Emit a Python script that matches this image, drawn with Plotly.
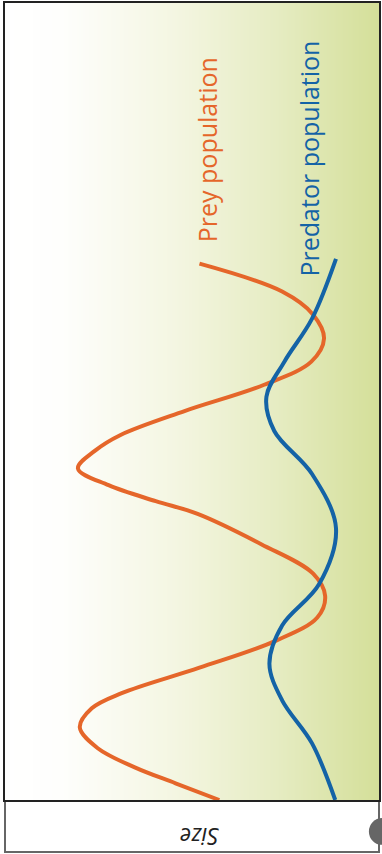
import numpy as np
import plotly.graph_objects as go

# Time runs upward (bottom = start), population size grows to the left.
prey_time = [0.0, 0.21, 0.41, 0.65, 0.91, 1.15, 1.34, 1.66, 2.0, 2.29, 2.56,
             2.84, 3.21, 3.59, 3.75, 3.95, 4.16, 4.38, 4.58, 4.88, 5.21, 5.5,
             5.79, 6.09, 6.38, 6.73]
prey_size = [4.27, 5.44, 6.53, 7.52, 8.0, 7.68, 6.88, 4.8, 2.75, 1.65, 1.44,
             1.76, 3.15, 4.85, 5.97, 7.23, 8.05, 7.6, 6.91, 5.2, 3.07, 1.81,
             1.47, 1.76, 2.59, 4.8]

pred_time = [0.0, 0.71, 1.25, 1.71, 2.19, 2.71, 3.41, 4.09, 4.63, 5.06, 5.5,
             6.04, 6.79]
pred_size = [1.17, 1.79, 2.59, 2.93, 2.59, 1.6, 1.15, 1.79, 2.8, 3.01, 2.53,
             1.79, 1.15]

labels = ["Prey population", "Predator population"]
axis_title = "Size"

ORANGE = "#e5662a"
BLUE = "#1463a6"

SIZE_MAX = 10.0
TIME_MAX = 10.0

fig = go.Figure()

# soft white-to-green backdrop across the size axis
n = 80
bg_x = np.linspace(SIZE_MAX, 0, n)
fig.add_trace(go.Heatmap(
    x=bg_x, y=[0, TIME_MAX], z=[np.linspace(0, 1, n)] * 2,
    colorscale=[[0.0, "#ffffff"], [0.15, "#fefefc"], [0.45, "#f4f6e2"],
                [0.72, "#e6ecc3"], [1.0, "#d4df99"]],
    zsmooth="best", showscale=False, hoverinfo="skip"))

fig.add_trace(go.Scatter(
    x=prey_size, y=prey_time, mode="lines", name=labels[0],
    line=dict(color=ORANGE, width=4, shape="spline", smoothing=1.0)))
fig.add_trace(go.Scatter(
    x=pred_size, y=pred_time, mode="lines", name=labels[1],
    line=dict(color=BLUE, width=4, shape="spline", smoothing=1.0)))

fig.add_annotation(x=4.61, y=8.16, xref="x", yref="y", text=labels[0],
                   textangle=-90, showarrow=False,
                   xanchor="center", yanchor="middle",
                   font=dict(family="Open Sans", size=25, color=ORANGE))
fig.add_annotation(x=1.87, y=8.05, xref="x", yref="y", text=labels[1],
                   textangle=-90, showarrow=False,
                   xanchor="center", yanchor="middle",
                   font=dict(family="Open Sans", size=25, color=BLUE))

# axis-title strip beneath the plot
fig.add_shape(type="rect", xref="paper", yref="paper",
              x0=0, x1=1, y0=-0.0651, y1=0,
              line=dict(color="#666666", width=2), fillcolor="white",
              layer="below")
fig.add_annotation(x=0.52, y=-0.0463, xref="paper", yref="paper",
                   text="<i>" + axis_title + "</i>", textangle=180,
                   showarrow=False, xanchor="center", yanchor="middle",
                   font=dict(family="Open Sans", size=23, color="#222222"))
fig.add_shape(type="circle", xref="paper", yref="paper",
              x0=0.973, x1=1.043, y0=-0.0563, y1=-0.0225,
              line=dict(width=0), fillcolor="#666666")

fig.update_xaxes(range=[SIZE_MAX, 0], showgrid=False, zeroline=False,
                 showticklabels=False, ticks="", showline=True, mirror=True,
                 linecolor="#222222", linewidth=2)
fig.update_yaxes(range=[0, TIME_MAX], showgrid=False, zeroline=False,
                 showticklabels=False, ticks="", showline=True, mirror=True,
                 linecolor="#222222", linewidth=2)

fig.update_layout(width=382, height=854,
                  margin=dict(l=5, r=2, t=1, b=54),
                  paper_bgcolor="white", plot_bgcolor="white",
                  showlegend=False)

fig.write_html("out.html", config={"displayModeBar": False})
